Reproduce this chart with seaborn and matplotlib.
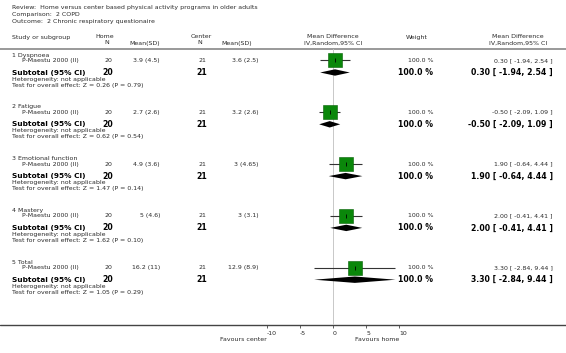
import numpy as np
import pandas as pd
import seaborn as sns
import matplotlib.pyplot as plt

# header texts
review = "Review:  Home versus center based physical activity programs in older adults"
comparison = "Comparison:  2 COPD"
outcome = "Outcome:  2 Chronic respiratory questionaire"

# data
subgroups = ["1 Dyspnoea", "2 Fatigue", "3 Emotional function", "4 Mastery", "5 Total"]
study = "P-Maestu 2000 (II)"
home_n = [20, 20, 20, 20, 20]
home_mean = [3.9, 2.7, 4.9, 5, 16.2]
home_sd = [4.5, 2.6, 3.6, 4.6, 11]
center_n = [21, 21, 21, 21, 21]
center_mean = [3.6, 3.2, 3, 3, 12.9]
center_sd = [2.5, 2.6, 4.65, 3.1, 8.9]
md = [0.30, -0.50, 1.90, 2.00, 3.30]
ci_lo = [-1.94, -2.09, -0.64, -0.41, -2.84]
ci_hi = [2.54, 1.09, 4.44, 4.41, 9.44]
weight = [100.0, 100.0, 100.0, 100.0, 100.0]
z_val = [0.26, 0.62, 1.47, 1.62, 1.05]
p_val = [0.79, 0.54, 0.14, 0.10, 0.29]
ticks = [-10, -5, 0, 5, 10]
fav_left = "Favours center"
fav_right = "Favours home"

df = pd.DataFrame({
    "group": subgroups, "home_n": home_n, "home_mean": home_mean, "home_sd": home_sd,
    "center_n": center_n, "center_mean": center_mean, "center_sd": center_sd,
    "md": md, "lo": ci_lo, "hi": ci_hi, "weight": weight, "z": z_val, "p": p_val,
})

sns.set_style("white")
plt.rcParams["font.family"] = ["DejaVu Sans"]
plt.rcParams["axes.unicode_minus"] = False

# layout in pixel rows (figure is 566 x 353 px)
W, H = 566, 353
Y_HEAD_LINE = 49
Y_AXIS = 325
X0 = 333          # pixel of MD = 0
PX = 6.62         # pixels per MD unit
GAP = 51.8
df["y0"] = 55 + GAP * np.arange(len(df))
df["y_study"] = df["y0"] + 5.5
df["y_sub"] = df["y0"] + 17.5

fig = plt.figure(figsize=(W / 100, H / 100), dpi=100)
tax = fig.add_axes([0, 0, 1, 1])
tax.set_xlim(0, W)
tax.set_ylim(H, 0)
tax.axis("off")

fx0, fx1 = 250, 420
fax = fig.add_axes([fx0 / W, (H - Y_AXIS) / H, (fx1 - fx0) / W, (Y_AXIS - Y_HEAD_LINE) / H])
fax.set_xlim((fx0 - X0) / PX, (fx1 - X0) / PX)
fax.set_ylim(Y_AXIS, Y_HEAD_LINE)
fax.patch.set_alpha(0)
for s in fax.spines.values():
    s.set_visible(False)

txt = "#2a2a2a"
small = 4.5
big = 5.6
sub_size = 5.3

# titles
tax.text(12.5, 7.5, review, fontsize=small, color=txt, va="center")
tax.text(12.5, 14.5, comparison, fontsize=small, color=txt, va="center")
tax.text(12.5, 21.5, outcome, fontsize=small, color=txt, va="center")

# column headers
tax.text(12.5, 38, "Study or subgroup", fontsize=small, color=txt, va="center")
tax.text(105, 37, "Home", fontsize=small, color=txt, va="center", ha="center")
tax.text(107, 43, "N", fontsize=small, color=txt, va="center", ha="center")
tax.text(145, 43, "Mean(SD)", fontsize=small, color=txt, va="center", ha="center")
tax.text(201, 37, "Center", fontsize=small, color=txt, va="center", ha="center")
tax.text(200, 43, "N", fontsize=small, color=txt, va="center", ha="center")
tax.text(237, 43, "Mean(SD)", fontsize=small, color=txt, va="center", ha="center")
tax.text(X0, 37, "Mean Difference", fontsize=small, color=txt, va="center", ha="center")
tax.text(X0, 43, "IV,Random,95% CI", fontsize=small, color=txt, va="center", ha="center")
tax.text(417, 38, "Weight", fontsize=small, color=txt, va="center", ha="center")
tax.text(518, 37, "Mean Difference", fontsize=small, color=txt, va="center", ha="center")
tax.text(518, 43, "IV,Random,95% CI", fontsize=small, color=txt, va="center", ha="center")
tax.axhline(Y_HEAD_LINE, color="#888888", lw=1.2)
tax.axhline(Y_AXIS, color="#444444", lw=1.0)

for _, r in df.iterrows():
    tax.text(12.5, r.y0, r.group, fontsize=small, color=txt, va="center")
    tax.text(22, r.y_study, study, fontsize=small, color=txt, va="center")
    tax.text(112, r.y_study, f"{r.home_n}", fontsize=small, color=txt, va="center", ha="right")
    tax.text(160, r.y_study, f"{r.home_mean:g} ({r.home_sd:g})", fontsize=small, color=txt, va="center", ha="right")
    tax.text(206, r.y_study, f"{r.center_n}", fontsize=small, color=txt, va="center", ha="right")
    tax.text(259, r.y_study, f"{r.center_mean:g} ({r.center_sd:g})", fontsize=small, color=txt, va="center", ha="right")
    tax.text(433, r.y_study, f"{r.weight:.1f} %", fontsize=small, color=txt, va="center", ha="right")
    tax.text(553, r.y_study, f"{r.md:.2f} [ {r.lo:.2f}, {r.hi:.2f} ]", fontsize=small, color=txt, va="center", ha="right")

    tax.text(12.5, r.y_sub, "Subtotal (95% CI)", fontsize=sub_size, weight="bold", color="black", va="center")
    tax.text(113, r.y_sub, f"{r.home_n}", fontsize=big, weight="bold", color="black", va="center", ha="right")
    tax.text(207, r.y_sub, f"{r.center_n}", fontsize=big, weight="bold", color="black", va="center", ha="right")
    tax.text(433, r.y_sub, f"{r.weight:.1f} %", fontsize=big, weight="bold", color="black", va="center", ha="right")
    tax.text(553, r.y_sub, f"{r.md:.2f} [ {r.lo:.2f}, {r.hi:.2f} ]", fontsize=big, weight="bold",
             color="black", va="center", ha="right")
    tax.text(12.5, r.y_sub + 6.5, "Heterogeneity: not applicable", fontsize=small, color=txt, va="center")
    tax.text(12.5, r.y_sub + 12.5, f"Test for overall effect: Z = {r.z:.2f} (P = {r.p:.2f})",
             fontsize=small, color=txt, va="center")

    # pooled diamond
    fax.fill([r.lo, r.md, r.hi, r.md], [r.y_sub, r.y_sub - 3.2, r.y_sub, r.y_sub + 3.2],
             color="black", lw=0, zorder=3)

# study estimates
fax.axvline(0, color="#c8c8c8", lw=0.7, zorder=1)
fax.hlines(df["y_study"], df["lo"], df["hi"], color="#333333", lw=0.8, zorder=2)
sns.scatterplot(data=df, x="md", y="y_study", marker="s", s=108, color="#0a870a",
                edgecolor="#056005", linewidth=0.4, zorder=3, ax=fax, legend=False)
fax.scatter(df["md"], df["y_study"], marker="|", s=10, color="black", lw=0.6, zorder=4)

fax.set_xticks(ticks)
fax.set_xticklabels([str(t) for t in ticks])
fax.set_yticks([])
fax.set_xlabel("")
fax.set_ylabel("")
fax.tick_params(axis="x", bottom=True, length=2.5, width=0.6, color="#444444",
                labelsize=small, labelcolor=txt, pad=1.5)
for lbl in fax.get_xticklabels():
    lbl.set_ha("left")
fax.text(-10, 340, fav_left, fontsize=small, color=txt, va="center", ha="right")
fax.text(10, 340, fav_right, fontsize=small, color=txt, va="center", ha="right")

fig.savefig("out.png", dpi=100)
